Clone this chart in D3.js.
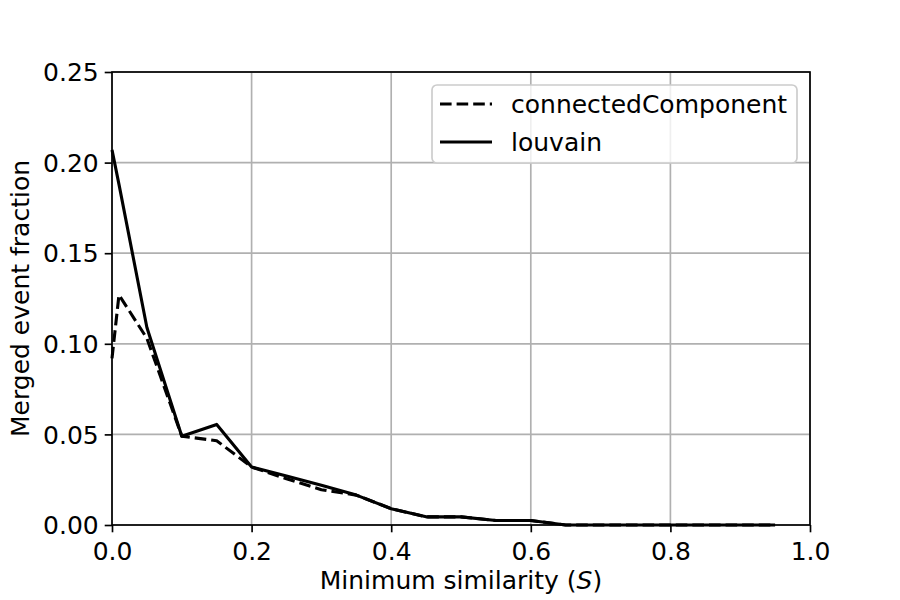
<!DOCTYPE html>
<html>
<head>
<meta charset="utf-8">
<script src="https://cdn.jsdelivr.net/npm/d3@7"></script>
<style>
  html, body { margin: 0; padding: 0; background: #fff; }
  svg { display: block; font-family: "DejaVu Sans", sans-serif; }
</style>
</head>
<body>
<svg id="chart" width="900" height="600"></svg>
<script>
const similarity = [0, 0.01, 0.05, 0.1, 0.15, 0.2, 0.25, 0.3, 0.35, 0.4, 0.45, 0.5, 0.55, 0.6, 0.65, 0.7, 0.75, 0.8, 0.85, 0.9, 0.95];
const connectedComponent = [0.092, 0.127, 0.103, 0.049, 0.0465, 0.032, 0.0255, 0.0195, 0.0165, 0.009, 0.0045, 0.0045, 0.0025, 0.0025, 0, 0, 0, 0, 0, 0, 0];
const louvain = [0.207, 0.188, 0.109, 0.049, 0.0555, 0.032, 0.027, 0.022, 0.0165, 0.009, 0.0045, 0.0045, 0.0025, 0.0025, 0, 0, 0, 0, 0, 0, 0];
const xTicks = [0, 0.2, 0.4, 0.6, 0.8, 1.0];
const yTicks = [0, 0.05, 0.10, 0.15, 0.20, 0.25];
const seriesNames = ["connectedComponent", "louvain"];

(function () {
const svg = d3.select("#chart");
const pL = 112, pR = 810, pT = 72, pB = 525;
const x = d3.scaleLinear().domain([0, 1]).range([pL, pR]);
const y = d3.scaleLinear().domain([0, 0.25]).range([pB, pT]);
const fs = 25;

// grid
const grid = svg.append("g");
grid.selectAll("line.vx").data(xTicks).enter().append("line")
  .attr("x1", d => x(d)).attr("x2", d => x(d)).attr("y1", pT).attr("y2", pB)
  .attr("stroke", "#b0b0b0").attr("stroke-width", 1.67);
grid.selectAll("line.hy").data(yTicks).enter().append("line")
  .attr("y1", d => y(d)).attr("y2", d => y(d)).attr("x1", pL).attr("x2", pR)
  .attr("stroke", "#b0b0b0").attr("stroke-width", 1.67);

// lines
const line = d3.line().x((d, i) => x(similarity[i])).y(d => y(d));
const plot = svg.append("g");
plot.append("path").datum(connectedComponent).attr("d", line)
  .attr("fill", "none").attr("stroke", "#000").attr("stroke-width", 3.1)
  .attr("stroke-dasharray", "11.6,5").attr("stroke-linejoin", "round");
plot.append("path").datum(louvain).attr("d", line)
  .attr("fill", "none").attr("stroke", "#000").attr("stroke-width", 3.1)
  .attr("stroke-linejoin", "round");

// axes
const xAxis = d3.axisBottom(x).tickValues(xTicks).tickFormat(d3.format(".1f")).tickSize(7.3).tickPadding(6);
const yAxis = d3.axisLeft(y).tickValues(yTicks).tickFormat(d3.format(".2f")).tickSize(7.3).tickPadding(6);
const gx = svg.append("g").attr("transform", `translate(0,${pB})`).call(xAxis);
const gy = svg.append("g").attr("transform", `translate(${pL},0)`).call(yAxis);
[gx, gy].forEach(g => {
  g.select(".domain").remove();
  g.selectAll(".tick line").attr("stroke", "#000").attr("stroke-width", 1.67);
  g.selectAll(".tick text").attr("fill", "#000").attr("font-size", fs).attr("font-family", "DejaVu Sans");
});
gx.selectAll(".tick text").attr("dy", null).attr("y", 35);
gy.selectAll(".tick text").attr("dy", "0.35em");

// frame
svg.append("rect").attr("x", pL).attr("y", pT).attr("width", pR - pL).attr("height", pB - pT)
  .attr("fill", "none").attr("stroke", "#000").attr("stroke-width", 1.67);

// axis labels
const xl = svg.append("text").attr("x", (pL + pR) / 2).attr("y", 589)
  .attr("text-anchor", "middle").attr("font-size", fs).attr("fill", "#000");
xl.append("tspan").text("Minimum similarity (");
xl.append("tspan").attr("font-style", "italic").text("S");
xl.append("tspan").text(")");

svg.append("text").attr("transform", `translate(29,${(pT + pB) / 2}) rotate(-90)`)
  .attr("text-anchor", "middle").attr("font-size", fs).attr("fill", "#000")
  .text("Merged event fraction");

// legend
const lg = svg.append("g");
lg.append("rect").attr("x", 432).attr("y", 85).attr("width", 365).attr("height", 78)
  .attr("rx", 5).attr("ry", 5)
  .attr("fill", "#fff").attr("fill-opacity", 0.8).attr("stroke", "#cccccc").attr("stroke-width", 1.67);
const legendRows = [
  { name: seriesNames[0], dash: "11.6,5", yy: 104 },
  { name: seriesNames[1], dash: null, yy: 142 }
];
legendRows.forEach(r => {
  lg.append("line").attr("x1", 440).attr("x2", 492).attr("y1", r.yy).attr("y2", r.yy)
    .attr("stroke", "#000").attr("stroke-width", 3.1).attr("stroke-dasharray", r.dash);
  lg.append("text").attr("x", 511).attr("y", r.yy).attr("dy", "0.35em")
    .attr("font-size", fs).attr("fill", "#000").text(r.name);
});
})();
</script>
</body>
</html>
